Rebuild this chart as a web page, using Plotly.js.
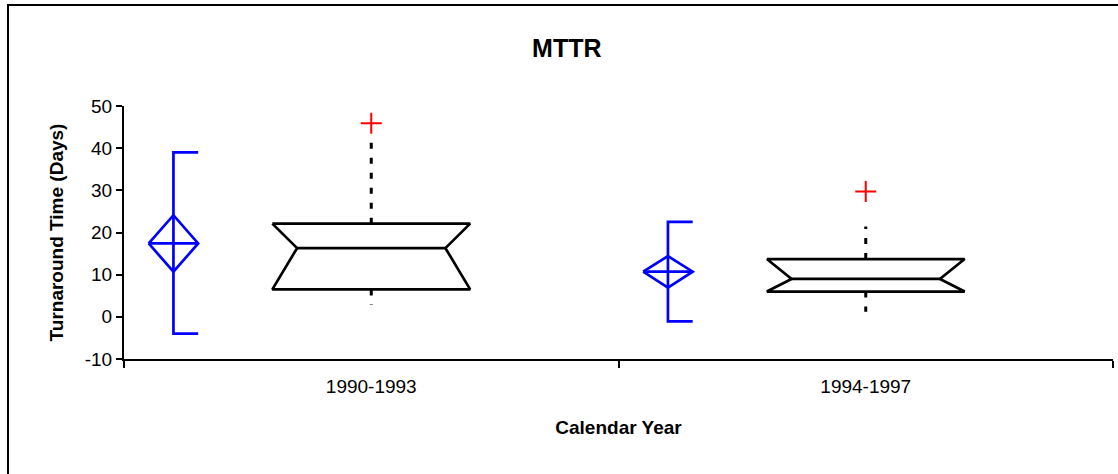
<!DOCTYPE html>
<html>
<head>
<meta charset="utf-8">
<script src="https://cdn.plot.ly/plotly-3.0.1.min.js"></script>
<style>
  html, body { margin: 0; padding: 0; background: #fff; }
  #wrap { position: relative; width: 1118px; height: 474px; overflow: hidden; }
  #chart { width: 1118px; height: 474px; }
  #frame { position: absolute; left: 7px; top: 4px; width: 1200px; height: 600px;
           border-left: 2px solid #000; border-top: 2px solid #000; pointer-events: none; }
</style>
</head>
<body>
<div id="wrap"><div id="chart"></div><div id="frame"></div></div>
<script>
// ---- data ----
const categories = ['1990-1993', '1994-1997'];
const yTickValues = [-10, 0, 10, 20, 30, 40, 50];
const yTickLabels = ['-10', '0', '10', '20', '30', '40', '50'];
// mean / spread marker (blue)
const means      = [17.4, 10.7];
const ciHigh     = [24.1, 14.4];
const ciLow      = [10.7, 6.9];
const spreadHigh = [39.0, 22.5];
const spreadLow  = [-4.0, -1.1];
// notched box plot (black)
const q1         = [6.5, 6.0];
const medians    = [16.3, 9.0];
const q3         = [22.1, 13.7];
const whiskerLow = [2.8, 1.2];
const whiskerHigh= [41.3, 21.4];
const outliers   = [45.9, 29.7];

// ---- style / layout constants ----
const MEAN_OFFSET = -0.40;   // position of mean marker relative to category centre
const DIAMOND_HW  = 0.05;
const CAP_W       = 0.05;
const BOX_HW      = 0.20;
const NOTCH_W     = 0.05;
const BLUE = '#0000FF', RED = '#FF0000', BLACK = '#000000';
const FONT = 'Liberation Sans, Arial, sans-serif';

const traces = [];
// invisible trace to register the categories on the labelled axis
traces.push({x: categories, y: [null, null], type: 'scatter', mode: 'markers',
             showlegend: false, hoverinfo: 'skip', xaxis: 'x', yaxis: 'y'});

categories.forEach((c, i) => {
  const xm = i + MEAN_OFFSET;
  // spread line with caps
  traces.push({
    type: 'scatter', mode: 'lines', xaxis: 'x2', yaxis: 'y', showlegend: false, hoverinfo: 'skip',
    x: [xm + CAP_W, xm, xm, xm + CAP_W],
    y: [spreadHigh[i], spreadHigh[i], spreadLow[i], spreadLow[i]],
    line: {color: BLUE, width: 2.7}
  });
  // diamond
  traces.push({
    type: 'scatter', mode: 'lines', xaxis: 'x2', yaxis: 'y', showlegend: false, hoverinfo: 'skip',
    x: [xm - DIAMOND_HW, xm, xm + DIAMOND_HW, xm, xm - DIAMOND_HW, null, xm - DIAMOND_HW, xm + DIAMOND_HW],
    y: [means[i], ciHigh[i], means[i], ciLow[i], means[i], null, means[i], means[i]],
    line: {color: BLUE, width: 2.7}
  });
  // whiskers (dashed, drawn outward from the box)
  traces.push({
    type: 'scatter', mode: 'lines', xaxis: 'x2', yaxis: 'y', showlegend: false, hoverinfo: 'skip',
    x: [i, i], y: [q3[i], whiskerHigh[i]],
    line: {color: BLACK, width: 3, dash: '6px,9px'}
  });
  traces.push({
    type: 'scatter', mode: 'lines', xaxis: 'x2', yaxis: 'y', showlegend: false, hoverinfo: 'skip',
    x: [i, i], y: [q1[i], whiskerLow[i]],
    line: {color: BLACK, width: 3, dash: '6px,9px'}
  });
  // notched box
  const L = i - BOX_HW, R = i + BOX_HW;
  traces.push({
    type: 'scatter', mode: 'lines', xaxis: 'x2', yaxis: 'y', showlegend: false, hoverinfo: 'skip',
    x: [L, R, R - NOTCH_W, R, L, L + NOTCH_W, L, null, L + NOTCH_W, R - NOTCH_W],
    y: [q3[i], q3[i], medians[i], q1[i], q1[i], medians[i], q3[i], null, medians[i], medians[i]],
    line: {color: BLACK, width: 2.7}
  });
  // outlier
  traces.push({
    type: 'scatter', mode: 'markers', xaxis: 'x2', yaxis: 'y', showlegend: false, hoverinfo: 'skip',
    x: [i], y: [outliers[i]],
    marker: {symbol: 'cross-thin', size: 15, color: RED, line: {color: RED, width: 2}}
  });
});

const layout = {
  width: 1118, height: 474,
  margin: {l: 124, r: 5, t: 106, b: 115},
  paper_bgcolor: '#ffffff', plot_bgcolor: '#ffffff',
  showlegend: false,
  font: {family: FONT, color: '#000', size: 19},
  title: {text: '<b>MTTR</b>', font: {family: FONT, size: 25, color: '#000'},
          xref: 'container', yref: 'container', x: 0.507, y: 0.899,
          xanchor: 'center', yanchor: 'middle'},
  xaxis: {
    type: 'category', categoryorder: 'array', categoryarray: categories,
    range: [-0.5, 1.5], tickson: 'boundaries', ticks: 'outside', ticklen: 7, tickwidth: 2,
    tickcolor: '#000', showline: true, linecolor: '#000', linewidth: 2,
    showgrid: false, zeroline: false, fixedrange: true, ticklabelstandoff: 9,
    tickfont: {family: FONT, size: 19, color: '#000'},
    title: {text: '<b>Calendar Year</b>', font: {family: FONT, size: 19, color: '#000'}, standoff: 25}
  },
  xaxis2: {overlaying: 'x', anchor: 'y', range: [-0.5, 1.5], visible: false, fixedrange: true},
  yaxis: {
    range: [-10, 50], tickmode: 'array', tickvals: yTickValues, ticktext: yTickLabels,
    ticks: 'outside', ticklen: 6, tickwidth: 2,
    tickcolor: '#000', showline: true, linecolor: '#000', linewidth: 2,
    showgrid: false, zeroline: false, fixedrange: true,
    tickfont: {family: FONT, size: 19, color: '#000'},
    title: {text: '<b>Turnaround Time (Days)</b>', font: {family: FONT, size: 19, color: '#000'}, standoff: 16}
  }
};

Plotly.newPlot('chart', traces, layout, {staticPlot: true, displayModeBar: false});
</script>
</body>
</html>
